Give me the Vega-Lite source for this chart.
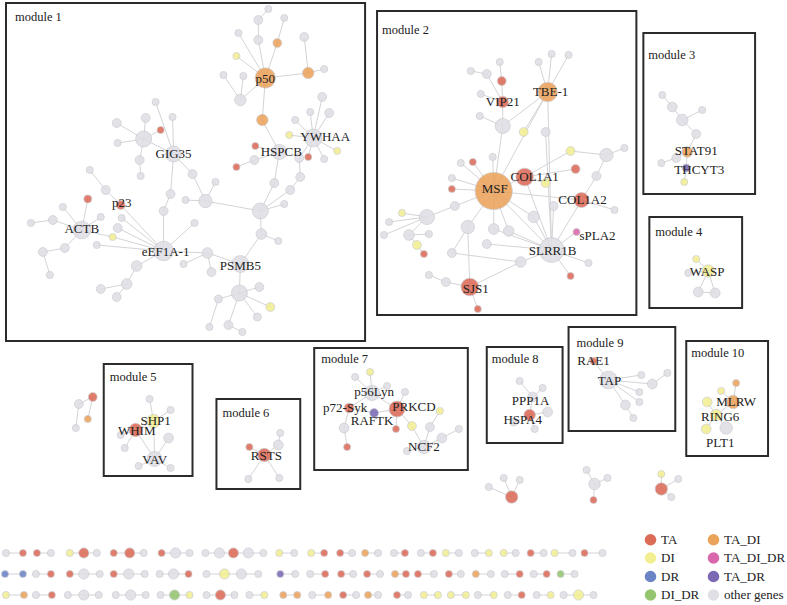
{
"$schema": "https://vega.github.io/schema/vega-lite/v6.json",
"width": 787, "height": 605,
"autosize": {"type": "fit", "contains": "padding"},
"padding": 0,
"background": "white",
"config": {"view": {"stroke": null}},
"datasets": {
"boxes": [
{"m":"1","x":4,"y":3,"x2":364,"y2":341},
{"m":"2","x":376,"y":11,"x2":636,"y2":315},
{"m":"3","x":643,"y":33,"x2":755,"y2":194},
{"m":"4","x":649,"y":217,"x2":742,"y2":308},
{"m":"5","x":102,"y":364,"x2":191,"y2":476},
{"m":"6","x":215,"y":399,"x2":299,"y2":489},
{"m":"7","x":313,"y":348,"x2":467,"y2":470},
{"m":"8","x":486,"y":347,"x2":562,"y2":443},
{"m":"9","x":568,"y":327,"x2":675,"y2":431},
{"m":"10","x":686,"y":341,"x2":768,"y2":456}
],
"mods": [
{"t":"module 1","x":13,"y":17},
{"t":"module 2","x":381,"y":30},
{"t":"module 3","x":648,"y":55},
{"t":"module 4","x":655,"y":232},
{"t":"module 5","x":108,"y":377},
{"t":"module 6","x":221,"y":413},
{"t":"module 7","x":320,"y":359},
{"t":"module 8","x":491,"y":359},
{"t":"module 9","x":576,"y":343},
{"t":"module 10","x":691,"y":353}
],
"labels": [
{"t":"p50","x":264,"y":79},
{"t":"YWHAA","x":324,"y":137},
{"t":"HSPCB","x":280,"y":152},
{"t":"GIG35","x":172,"y":154},
{"t":"p23","x":120,"y":203},
{"t":"ACTB","x":80,"y":229},
{"t":"eEF1A-1","x":164,"y":252},
{"t":"PSMB5","x":239,"y":266},
{"t":"VIP21","x":502,"y":102},
{"t":"TBE-1","x":550,"y":92},
{"t":"COL1A1","x":534,"y":177},
{"t":"MSF","x":494,"y":189},
{"t":"COL1A2","x":582,"y":200},
{"t":"sPLA2","x":597,"y":236},
{"t":"SLRR1B","x":552,"y":251},
{"t":"SJS1","x":475,"y":289},
{"t":"STAT91","x":696,"y":151},
{"t":"THCYT3","x":699,"y":170},
{"t":"WASP","x":707,"y":272},
{"t":"SHP1","x":154,"y":421},
{"t":"WHIM","x":135,"y":431},
{"t":"VAV","x":153,"y":460},
{"t":"RSTS","x":265,"y":456},
{"t":"p56Lyn","x":373,"y":392},
{"t":"p72-Syk","x":344,"y":408},
{"t":"PRKCD","x":413,"y":407},
{"t":"RAFTK","x":371,"y":421},
{"t":"NCF2","x":423,"y":447},
{"t":"PPP1A","x":530,"y":401},
{"t":"HSPA4","x":522,"y":420},
{"t":"RAE1","x":593,"y":361},
{"t":"TAP","x":609,"y":381},
{"t":"MLRW","x":736,"y":402},
{"t":"RING6","x":720,"y":417},
{"t":"PLT1","x":720,"y":443}
],
"nodes": [
{"id":"a1","x":267,"y":9,"w":8,"c":"other genes"},
{"id":"a2","x":257,"y":20,"w":10,"c":"other genes"},
{"id":"a3","x":283,"y":18,"w":8,"c":"other genes"},
{"id":"a4","x":237,"y":33,"w":8,"c":"other genes"},
{"id":"a5","x":257,"y":40,"w":10,"c":"other genes"},
{"id":"a6","x":276,"y":43,"w":10,"c":"TA_DI"},
{"id":"a7","x":303,"y":37,"w":10,"c":"other genes"},
{"id":"a8","x":235,"y":56,"w":8,"c":"DI"},
{"id":"a9","x":264,"y":78,"w":23,"c":"TA_DI"},
{"id":"a10","x":307,"y":73,"w":13,"c":"TA_DI"},
{"id":"a11","x":323,"y":69,"w":8,"c":"other genes"},
{"id":"a12","x":222,"y":75,"w":8,"c":"other genes"},
{"id":"a13","x":242,"y":76,"w":8,"c":"other genes"},
{"id":"a14","x":239,"y":100,"w":13,"c":"other genes"},
{"id":"a15","x":261,"y":120,"w":13,"c":"TA_DI"},
{"id":"a16","x":321,"y":97,"w":10,"c":"other genes"},
{"id":"a17","x":328,"y":113,"w":10,"c":"other genes"},
{"id":"a18","x":309,"y":112,"w":8,"c":"other genes"},
{"id":"a19","x":294,"y":120,"w":8,"c":"other genes"},
{"id":"a20","x":312,"y":138,"w":20,"c":"other genes"},
{"id":"a21","x":288,"y":135,"w":8,"c":"DI"},
{"id":"a22","x":336,"y":151,"w":8,"c":"DI"},
{"id":"a23","x":323,"y":159,"w":8,"c":"other genes"},
{"id":"a24","x":307,"y":157,"w":8,"c":"TA"},
{"id":"a25","x":298,"y":158,"w":10,"c":"other genes"},
{"id":"a26","x":278,"y":152,"w":17,"c":"other genes"},
{"id":"a27","x":254,"y":146,"w":8,"c":"TA"},
{"id":"a28","x":253,"y":160,"w":10,"c":"other genes"},
{"id":"a29","x":235,"y":167,"w":8,"c":"TA"},
{"id":"a30","x":299,"y":177,"w":10,"c":"other genes"},
{"id":"a31","x":273,"y":183,"w":10,"c":"other genes"},
{"id":"a32","x":289,"y":190,"w":10,"c":"other genes"},
{"id":"a33","x":283,"y":204,"w":8,"c":"other genes"},
{"id":"a34","x":259,"y":211,"w":18,"c":"other genes"},
{"id":"a35","x":260,"y":234,"w":12,"c":"other genes"},
{"id":"a36","x":277,"y":241,"w":8,"c":"other genes"},
{"id":"a37","x":239,"y":264,"w":19,"c":"other genes"},
{"id":"a38","x":206,"y":253,"w":12,"c":"other genes"},
{"id":"a39","x":182,"y":264,"w":8,"c":"other genes"},
{"id":"a40","x":210,"y":272,"w":10,"c":"other genes"},
{"id":"a41","x":238,"y":293,"w":18,"c":"other genes"},
{"id":"a42","x":258,"y":287,"w":10,"c":"other genes"},
{"id":"a43","x":269,"y":307,"w":10,"c":"DI"},
{"id":"a44","x":256,"y":317,"w":9,"c":"other genes"},
{"id":"a45","x":217,"y":299,"w":9,"c":"other genes"},
{"id":"a46","x":227,"y":325,"w":10,"c":"other genes"},
{"id":"a47","x":208,"y":327,"w":8,"c":"other genes"},
{"id":"a48","x":241,"y":332,"w":8,"c":"other genes"},
{"id":"a49","x":204,"y":201,"w":15,"c":"other genes"},
{"id":"a50","x":214,"y":182,"w":8,"c":"other genes"},
{"id":"a51","x":184,"y":200,"w":8,"c":"other genes"},
{"id":"a52","x":191,"y":174,"w":10,"c":"other genes"},
{"id":"a53","x":172,"y":154,"w":18,"c":"other genes"},
{"id":"a54","x":169,"y":194,"w":10,"c":"other genes"},
{"id":"a55","x":162,"y":211,"w":10,"c":"other genes"},
{"id":"a56","x":162,"y":251,"w":22,"c":"other genes"},
{"id":"a57","x":193,"y":223,"w":8,"c":"other genes"},
{"id":"a58","x":135,"y":266,"w":12,"c":"other genes"},
{"id":"a59","x":125,"y":284,"w":12,"c":"other genes"},
{"id":"a60","x":99,"y":289,"w":10,"c":"other genes"},
{"id":"a61","x":115,"y":297,"w":10,"c":"other genes"},
{"id":"a62","x":111,"y":237,"w":8,"c":"DI"},
{"id":"a63","x":95,"y":245,"w":8,"c":"other genes"},
{"id":"a64","x":116,"y":228,"w":10,"c":"other genes"},
{"id":"a65","x":120,"y":218,"w":8,"c":"other genes"},
{"id":"a66","x":119,"y":205,"w":10,"c":"TA"},
{"id":"a67","x":104,"y":190,"w":10,"c":"other genes"},
{"id":"a68","x":88,"y":170,"w":8,"c":"other genes"},
{"id":"a69","x":86,"y":199,"w":9,"c":"TA"},
{"id":"a70","x":80,"y":230,"w":20,"c":"other genes"},
{"id":"a71","x":61,"y":207,"w":8,"c":"other genes"},
{"id":"a72","x":51,"y":220,"w":10,"c":"other genes"},
{"id":"a73","x":29,"y":223,"w":8,"c":"other genes"},
{"id":"a74","x":99,"y":217,"w":8,"c":"other genes"},
{"id":"a75","x":63,"y":248,"w":10,"c":"other genes"},
{"id":"a76","x":41,"y":252,"w":10,"c":"other genes"},
{"id":"a77","x":48,"y":275,"w":8,"c":"other genes"},
{"id":"a78","x":142,"y":139,"w":18,"c":"other genes"},
{"id":"a79","x":115,"y":123,"w":10,"c":"other genes"},
{"id":"a80","x":144,"y":118,"w":10,"c":"other genes"},
{"id":"a81","x":154,"y":102,"w":8,"c":"other genes"},
{"id":"a82","x":171,"y":117,"w":8,"c":"other genes"},
{"id":"a83","x":159,"y":130,"w":8,"c":"TA"},
{"id":"a84","x":116,"y":143,"w":8,"c":"other genes"},
{"id":"a85","x":138,"y":160,"w":10,"c":"other genes"},
{"id":"a86","x":139,"y":176,"w":8,"c":"other genes"},
{"id":"b1","x":499,"y":62,"w":8,"c":"other genes"},
{"id":"b2","x":470,"y":71,"w":8,"c":"other genes"},
{"id":"b3","x":486,"y":74,"w":10,"c":"other genes"},
{"id":"b4","x":501,"y":81,"w":10,"c":"TA"},
{"id":"b5","x":480,"y":94,"w":8,"c":"other genes"},
{"id":"b6","x":502,"y":102,"w":13,"c":"TA"},
{"id":"b7","x":547,"y":92,"w":22,"c":"TA_DI"},
{"id":"b8","x":538,"y":62,"w":8,"c":"other genes"},
{"id":"b9","x":551,"y":54,"w":8,"c":"other genes"},
{"id":"b10","x":568,"y":55,"w":8,"c":"other genes"},
{"id":"b11","x":479,"y":116,"w":8,"c":"other genes"},
{"id":"b12","x":502,"y":126,"w":17,"c":"other genes"},
{"id":"b13","x":523,"y":132,"w":10,"c":"DI"},
{"id":"b14","x":545,"y":132,"w":10,"c":"other genes"},
{"id":"b15","x":570,"y":151,"w":10,"c":"DI"},
{"id":"b16","x":606,"y":155,"w":15,"c":"other genes"},
{"id":"b17","x":624,"y":148,"w":8,"c":"other genes"},
{"id":"b18","x":575,"y":169,"w":10,"c":"TA"},
{"id":"b19","x":596,"y":176,"w":10,"c":"other genes"},
{"id":"b20","x":524,"y":177,"w":20,"c":"TA"},
{"id":"b21","x":545,"y":183,"w":10,"c":"DI"},
{"id":"b22","x":493,"y":191,"w":42,"c":"TA_DI"},
{"id":"b23","x":472,"y":162,"w":8,"c":"TA"},
{"id":"b24","x":460,"y":163,"w":8,"c":"other genes"},
{"id":"b25","x":492,"y":157,"w":8,"c":"other genes"},
{"id":"b26","x":451,"y":178,"w":8,"c":"other genes"},
{"id":"b27","x":451,"y":189,"w":8,"c":"TA"},
{"id":"b28","x":581,"y":200,"w":17,"c":"TA"},
{"id":"b29","x":614,"y":210,"w":8,"c":"other genes"},
{"id":"b30","x":553,"y":206,"w":10,"c":"other genes"},
{"id":"b31","x":533,"y":217,"w":13,"c":"other genes"},
{"id":"b32","x":576,"y":232,"w":8,"c":"TA_DI_DR"},
{"id":"b33","x":551,"y":250,"w":28,"c":"other genes"},
{"id":"b34","x":588,"y":263,"w":8,"c":"other genes"},
{"id":"b35","x":570,"y":276,"w":8,"c":"TA"},
{"id":"b36","x":520,"y":262,"w":12,"c":"other genes"},
{"id":"b37","x":508,"y":231,"w":12,"c":"other genes"},
{"id":"b38","x":493,"y":229,"w":12,"c":"other genes"},
{"id":"b39","x":486,"y":244,"w":10,"c":"other genes"},
{"id":"b40","x":467,"y":227,"w":15,"c":"other genes"},
{"id":"b41","x":454,"y":206,"w":10,"c":"other genes"},
{"id":"b42","x":426,"y":217,"w":17,"c":"other genes"},
{"id":"b43","x":401,"y":213,"w":8,"c":"DI"},
{"id":"b44","x":388,"y":222,"w":8,"c":"other genes"},
{"id":"b45","x":383,"y":235,"w":8,"c":"other genes"},
{"id":"b46","x":408,"y":235,"w":12,"c":"other genes"},
{"id":"b47","x":428,"y":234,"w":8,"c":"other genes"},
{"id":"b48","x":416,"y":245,"w":10,"c":"DI"},
{"id":"b49","x":423,"y":254,"w":8,"c":"TA"},
{"id":"b50","x":451,"y":253,"w":10,"c":"other genes"},
{"id":"b51","x":469,"y":287,"w":20,"c":"TA"},
{"id":"b52","x":445,"y":282,"w":10,"c":"other genes"},
{"id":"b53","x":428,"y":275,"w":8,"c":"other genes"},
{"id":"b54","x":477,"y":309,"w":8,"c":"TA"},
{"id":"c1","x":662,"y":95,"w":8,"c":"other genes"},
{"id":"c2","x":672,"y":107,"w":11,"c":"other genes"},
{"id":"c3","x":702,"y":110,"w":8,"c":"other genes"},
{"id":"c4","x":682,"y":120,"w":13,"c":"other genes"},
{"id":"c5","x":696,"y":134,"w":10,"c":"other genes"},
{"id":"c6","x":687,"y":152,"w":12,"c":"TA_DI"},
{"id":"c7","x":676,"y":158,"w":10,"c":"other genes"},
{"id":"c8","x":661,"y":163,"w":8,"c":"other genes"},
{"id":"c9","x":686,"y":168,"w":9,"c":"TA_DR"},
{"id":"c10","x":684,"y":182,"w":8,"c":"DI"},
{"id":"d1","x":696,"y":259,"w":8,"c":"DI"},
{"id":"d2","x":708,"y":271,"w":14,"c":"DI"},
{"id":"d3","x":688,"y":273,"w":8,"c":"other genes"},
{"id":"d4","x":698,"y":292,"w":11,"c":"other genes"},
{"id":"d5","x":715,"y":293,"w":11,"c":"other genes"},
{"id":"e1","x":77,"y":404,"w":10,"c":"other genes"},
{"id":"e2","x":91,"y":397,"w":10,"c":"TA"},
{"id":"e3","x":86,"y":419,"w":8,"c":"TA_DI"},
{"id":"e4","x":74,"y":428,"w":8,"c":"other genes"},
{"id":"e5","x":148,"y":399,"w":8,"c":"other genes"},
{"id":"e6","x":152,"y":421,"w":15,"c":"DI"},
{"id":"e7","x":169,"y":410,"w":8,"c":"other genes"},
{"id":"e8","x":134,"y":430,"w":15,"c":"TA"},
{"id":"e9","x":119,"y":435,"w":8,"c":"other genes"},
{"id":"e10","x":167,"y":438,"w":11,"c":"other genes"},
{"id":"e11","x":123,"y":448,"w":8,"c":"other genes"},
{"id":"e12","x":153,"y":459,"w":17,"c":"other genes"},
{"id":"e13","x":137,"y":466,"w":8,"c":"other genes"},
{"id":"e14","x":169,"y":468,"w":8,"c":"other genes"},
{"id":"f1","x":279,"y":433,"w":8,"c":"other genes"},
{"id":"f2","x":277,"y":445,"w":11,"c":"other genes"},
{"id":"f3","x":248,"y":447,"w":8,"c":"TA"},
{"id":"f4","x":263,"y":455,"w":15,"c":"TA"},
{"id":"f5","x":247,"y":479,"w":8,"c":"other genes"},
{"id":"f6","x":278,"y":478,"w":8,"c":"other genes"},
{"id":"g1","x":369,"y":372,"w":8,"c":"DI"},
{"id":"g2","x":354,"y":377,"w":8,"c":"other genes"},
{"id":"g3","x":371,"y":393,"w":17,"c":"other genes"},
{"id":"g4","x":386,"y":386,"w":8,"c":"other genes"},
{"id":"g5","x":404,"y":392,"w":8,"c":"other genes"},
{"id":"g6","x":348,"y":408,"w":11,"c":"TA"},
{"id":"g7","x":373,"y":413,"w":10,"c":"TA_DR"},
{"id":"g8","x":396,"y":409,"w":18,"c":"TA"},
{"id":"g9","x":439,"y":411,"w":8,"c":"DI"},
{"id":"g10","x":395,"y":429,"w":8,"c":"TA"},
{"id":"g11","x":411,"y":426,"w":10,"c":"DI"},
{"id":"g12","x":429,"y":427,"w":10,"c":"other genes"},
{"id":"g13","x":458,"y":429,"w":8,"c":"other genes"},
{"id":"g14","x":441,"y":438,"w":11,"c":"other genes"},
{"id":"g15","x":423,"y":447,"w":15,"c":"other genes"},
{"id":"g16","x":406,"y":451,"w":8,"c":"other genes"},
{"id":"g17","x":343,"y":428,"w":11,"c":"other genes"},
{"id":"g18","x":346,"y":447,"w":8,"c":"TA"},
{"id":"h1","x":519,"y":381,"w":8,"c":"other genes"},
{"id":"h2","x":542,"y":388,"w":8,"c":"other genes"},
{"id":"h3","x":532,"y":397,"w":11,"c":"other genes"},
{"id":"h4","x":547,"y":412,"w":11,"c":"other genes"},
{"id":"h5","x":529,"y":415,"w":13,"c":"TA"},
{"id":"h6","x":513,"y":422,"w":9,"c":"other genes"},
{"id":"h7","x":534,"y":429,"w":8,"c":"other genes"},
{"id":"i1","x":593,"y":361,"w":8,"c":"TA"},
{"id":"i2","x":608,"y":380,"w":20,"c":"other genes"},
{"id":"i3","x":641,"y":375,"w":8,"c":"other genes"},
{"id":"i4","x":667,"y":373,"w":8,"c":"other genes"},
{"id":"i5","x":652,"y":384,"w":11,"c":"other genes"},
{"id":"i6","x":639,"y":392,"w":8,"c":"other genes"},
{"id":"i7","x":639,"y":402,"w":8,"c":"other genes"},
{"id":"i8","x":625,"y":405,"w":11,"c":"other genes"},
{"id":"i9","x":633,"y":418,"w":8,"c":"other genes"},
{"id":"j1","x":736,"y":383,"w":8,"c":"TA_DI"},
{"id":"j2","x":721,"y":391,"w":8,"c":"DI"},
{"id":"j3","x":707,"y":402,"w":11,"c":"DI"},
{"id":"j4","x":733,"y":402,"w":15,"c":"TA_DI"},
{"id":"j5","x":716,"y":415,"w":13,"c":"DI"},
{"id":"j6","x":706,"y":429,"w":11,"c":"DI"},
{"id":"j7","x":726,"y":428,"w":14,"c":"other genes"},
{"id":"k1","x":488,"y":487,"w":8,"c":"other genes"},
{"id":"k2","x":503,"y":478,"w":8,"c":"other genes"},
{"id":"k3","x":519,"y":480,"w":8,"c":"other genes"},
{"id":"k4","x":511,"y":497,"w":14,"c":"TA"},
{"id":"k5","x":586,"y":470,"w":8,"c":"other genes"},
{"id":"k6","x":594,"y":484,"w":13,"c":"other genes"},
{"id":"k7","x":607,"y":478,"w":8,"c":"other genes"},
{"id":"k8","x":593,"y":500,"w":8,"c":"TA"},
{"id":"k9","x":661,"y":474,"w":8,"c":"DI"},
{"id":"k10","x":678,"y":479,"w":8,"c":"other genes"},
{"id":"k11","x":661,"y":489,"w":14,"c":"TA"},
{"id":"k12","x":671,"y":497,"w":8,"c":"other genes"}
],
"edges": [
{"a":"a1","b":"a2"},{"a":"a2","b":"a5"},{"a":"a5","b":"a9"},{"a":"a3","b":"a6"},{"a":"a6","b":"a9"},{"a":"a4","b":"a9"},{"a":"a8","b":"a9"},{"a":"a7","b":"a10"},{"a":"a10","b":"a9"},{"a":"a11","b":"a10"},{"a":"a12","b":"a14"},{"a":"a13","b":"a14"},{"a":"a14","b":"a9"},{"a":"a9","b":"a15"},{"a":"a15","b":"a26"},{"a":"a27","b":"a26"},{"a":"a28","b":"a26"},{"a":"a29","b":"a28"},{"a":"a26","b":"a31"},{"a":"a31","b":"a34"},
{"a":"a16","b":"a20"},{"a":"a17","b":"a20"},{"a":"a18","b":"a20"},{"a":"a19","b":"a20"},{"a":"a21","b":"a20"},{"a":"a22","b":"a20"},{"a":"a23","b":"a20"},{"a":"a24","b":"a20"},{"a":"a25","b":"a20"},{"a":"a25","b":"a30"},{"a":"a30","b":"a32"},{"a":"a32","b":"a34"},{"a":"a33","b":"a34"},
{"a":"a34","b":"a49"},{"a":"a49","b":"a52"},{"a":"a52","b":"a53"},{"a":"a49","b":"a50"},{"a":"a49","b":"a51"},{"a":"a34","b":"a35"},{"a":"a35","b":"a37"},{"a":"a35","b":"a36"},{"a":"a37","b":"a38"},{"a":"a38","b":"a39"},{"a":"a38","b":"a40"},{"a":"a37","b":"a41"},{"a":"a41","b":"a42"},{"a":"a41","b":"a43"},{"a":"a41","b":"a44"},{"a":"a41","b":"a45"},{"a":"a45","b":"a47"},{"a":"a41","b":"a46"},{"a":"a46","b":"a48"},
{"a":"a53","b":"a78"},{"a":"a78","b":"a79"},{"a":"a78","b":"a80"},{"a":"a78","b":"a83"},{"a":"a78","b":"a84"},{"a":"a78","b":"a85"},{"a":"a85","b":"a86"},{"a":"a81","b":"a53"},{"a":"a82","b":"a53"},
{"a":"a53","b":"a54"},{"a":"a54","b":"a55"},{"a":"a55","b":"a56"},{"a":"a56","b":"a57"},{"a":"a56","b":"a58"},{"a":"a58","b":"a59"},{"a":"a59","b":"a60"},{"a":"a59","b":"a61"},{"a":"a56","b":"a62"},{"a":"a56","b":"a64"},{"a":"a56","b":"a65"},{"a":"a56","b":"a66"},{"a":"a66","b":"a67"},{"a":"a67","b":"a68"},{"a":"a56","b":"a38"},{"a":"a70","b":"a62"},{"a":"a70","b":"a69"},{"a":"a70","b":"a71"},{"a":"a70","b":"a72"},{"a":"a72","b":"a73"},{"a":"a70","b":"a74"},{"a":"a70","b":"a75"},{"a":"a75","b":"a76"},{"a":"a76","b":"a77"},{"a":"a63","b":"a56"},
{"a":"b2","b":"b3"},{"a":"b3","b":"b6"},{"a":"b1","b":"b4"},{"a":"b4","b":"b6"},{"a":"b5","b":"b6"},{"a":"b6","b":"b12"},{"a":"b11","b":"b12"},{"a":"b12","b":"b22"},{"a":"b8","b":"b7"},{"a":"b9","b":"b7"},{"a":"b10","b":"b7"},{"a":"b7","b":"b22"},{"a":"b7","b":"b13"},{"a":"b7","b":"b33"},{"a":"b14","b":"b33"},{"a":"b7","b":"b12"},
{"a":"b23","b":"b22"},{"a":"b24","b":"b22"},{"a":"b25","b":"b22"},{"a":"b26","b":"b22"},{"a":"b27","b":"b22"},{"a":"b22","b":"b20"},{"a":"b22","b":"b28"},{"a":"b22","b":"b41"},{"a":"b41","b":"b42"},{"a":"b42","b":"b43"},{"a":"b42","b":"b44"},{"a":"b42","b":"b45"},{"a":"b42","b":"b46"},{"a":"b46","b":"b47"},{"a":"b46","b":"b48"},{"a":"b48","b":"b49"},{"a":"b22","b":"b40"},{"a":"b22","b":"b38"},{"a":"b22","b":"b37"},{"a":"b22","b":"b31"},{"a":"b22","b":"b33"},{"a":"b40","b":"b51"},{"a":"b40","b":"b50"},{"a":"b51","b":"b52"},{"a":"b52","b":"b53"},{"a":"b51","b":"b54"},{"a":"b51","b":"b36"},{"a":"b36","b":"b33"},{"a":"b39","b":"b33"},{"a":"b38","b":"b33"},{"a":"b37","b":"b33"},{"a":"b31","b":"b33"},{"a":"b20","b":"b21"},{"a":"b20","b":"b33"},{"a":"b20","b":"b15"},{"a":"b15","b":"b16"},{"a":"b16","b":"b17"},{"a":"b16","b":"b19"},{"a":"b19","b":"b28"},{"a":"b18","b":"b20"},{"a":"b28","b":"b33"},{"a":"b28","b":"b29"},{"a":"b30","b":"b33"},{"a":"b32","b":"b33"},{"a":"b34","b":"b33"},{"a":"b35","b":"b33"},{"a":"b50","b":"b36"},
{"a":"c1","b":"c2"},{"a":"c2","b":"c4"},{"a":"c3","b":"c4"},{"a":"c4","b":"c5"},{"a":"c5","b":"c6"},{"a":"c6","b":"c7"},{"a":"c7","b":"c8"},{"a":"c6","b":"c9"},{"a":"c9","b":"c10"},
{"a":"d1","b":"d2"},{"a":"d3","b":"d2"},{"a":"d2","b":"d4"},{"a":"d2","b":"d5"},{"a":"d4","b":"d5"},
{"a":"e1","b":"e2"},{"a":"e1","b":"e4"},{"a":"e2","b":"e3"},{"a":"e5","b":"e6"},{"a":"e7","b":"e6"},{"a":"e6","b":"e8"},{"a":"e8","b":"e9"},{"a":"e8","b":"e11"},{"a":"e8","b":"e12"},{"a":"e6","b":"e12"},{"a":"e10","b":"e12"},{"a":"e12","b":"e13"},{"a":"e12","b":"e14"},
{"a":"f1","b":"f2"},{"a":"f2","b":"f4"},{"a":"f3","b":"f4"},{"a":"f4","b":"f5"},{"a":"f4","b":"f6"},
{"a":"g1","b":"g3"},{"a":"g2","b":"g3"},{"a":"g4","b":"g3"},{"a":"g3","b":"g8"},{"a":"g3","b":"g6"},{"a":"g5","b":"g8"},{"a":"g6","b":"g7"},{"a":"g7","b":"g8"},{"a":"g6","b":"g17"},{"a":"g17","b":"g18"},{"a":"g8","b":"g10"},{"a":"g8","b":"g11"},{"a":"g11","b":"g15"},{"a":"g9","b":"g12"},{"a":"g12","b":"g15"},{"a":"g13","b":"g14"},{"a":"g14","b":"g15"},{"a":"g15","b":"g16"},
{"a":"h1","b":"h3"},{"a":"h2","b":"h3"},{"a":"h3","b":"h5"},{"a":"h5","b":"h4"},{"a":"h5","b":"h6"},{"a":"h5","b":"h7"},
{"a":"i1","b":"i2"},{"a":"i2","b":"i3"},{"a":"i2","b":"i5"},{"a":"i5","b":"i4"},{"a":"i2","b":"i6"},{"a":"i2","b":"i7"},{"a":"i2","b":"i8"},{"a":"i8","b":"i9"},
{"a":"j1","b":"j4"},{"a":"j2","b":"j4"},{"a":"j3","b":"j5"},{"a":"j4","b":"j5"},{"a":"j5","b":"j6"},{"a":"j5","b":"j7"},
{"a":"k1","b":"k4"},{"a":"k2","b":"k4"},{"a":"k3","b":"k4"},{"a":"k5","b":"k6"},{"a":"k7","b":"k6"},{"a":"k6","b":"k8"},{"a":"k9","b":"k11"},{"a":"k10","b":"k11"},{"a":"k12","b":"k11"}
],
"chains": [
{"g":"1a","x":4,"y":553,"w":8,"c":"other genes"},{"g":"1a","x":21,"y":553,"w":8,"c":"TA"},
{"g":"1b","x":35,"y":553,"w":8,"c":"TA"},{"g":"1b","x":49,"y":553,"w":8,"c":"other genes"},
{"g":"1c","x":68,"y":553,"w":8,"c":"DI"},{"g":"1c","x":82,"y":553,"w":11.5,"c":"TA"},{"g":"1c","x":95,"y":553,"w":8,"c":"other genes"},
{"g":"1d","x":112,"y":553,"w":8,"c":"TA"},{"g":"1d","x":128,"y":553,"w":11.5,"c":"TA"},{"g":"1d","x":142,"y":553,"w":8,"c":"other genes"},
{"g":"1e","x":160,"y":553,"w":8,"c":"TA"},{"g":"1e","x":174,"y":553,"w":11.5,"c":"other genes"},{"g":"1e","x":188,"y":553,"w":8,"c":"other genes"},
{"g":"1f","x":204,"y":553,"w":8,"c":"other genes"},{"g":"1f","x":218,"y":553,"w":11.5,"c":"other genes"},{"g":"1f","x":232,"y":553,"w":11.5,"c":"TA"},{"g":"1f","x":247,"y":553,"w":11.5,"c":"other genes"},{"g":"1f","x":262,"y":553,"w":8,"c":"other genes"},
{"g":"1g","x":278,"y":553,"w":8,"c":"DI"},{"g":"1g","x":293,"y":553,"w":8,"c":"other genes"},
{"g":"1h","x":310,"y":553,"w":8,"c":"DI"},{"g":"1h","x":323,"y":553,"w":8,"c":"TA"},
{"g":"1i","x":339,"y":553,"w":8,"c":"TA"},{"g":"1i","x":351,"y":553,"w":8,"c":"other genes"},
{"g":"1j","x":364,"y":553,"w":8,"c":"TA_DI"},{"g":"1j","x":377,"y":553,"w":8,"c":"other genes"},
{"g":"1k","x":393,"y":553,"w":8,"c":"other genes"},{"g":"1k","x":404,"y":553,"w":8,"c":"TA"},
{"g":"1l","x":420,"y":553,"w":8,"c":"other genes"},{"g":"1l","x":432,"y":553,"w":8,"c":"TA"},
{"g":"1m","x":445,"y":553,"w":8,"c":"DI"},{"g":"1m","x":458,"y":553,"w":8,"c":"other genes"},
{"g":"1n","x":474,"y":553,"w":8,"c":"other genes"},{"g":"1n","x":488,"y":553,"w":8,"c":"DI"},
{"g":"1o","x":503,"y":553,"w":8,"c":"DI"},{"g":"1o","x":515,"y":553,"w":8,"c":"other genes"},
{"g":"1p","x":530,"y":553,"w":8,"c":"TA"},{"g":"1p","x":543,"y":553,"w":8,"c":"other genes"},
{"g":"1q","x":554,"y":553,"w":8,"c":"DI"},{"g":"1q","x":572,"y":553,"w":8,"c":"other genes"},
{"g":"1r","x":584,"y":553,"w":8,"c":"TA"},{"g":"1r","x":602,"y":553,"w":8,"c":"other genes"},
{"g":"2a","x":3,"y":574,"w":8,"c":"DR"},{"g":"2a","x":21,"y":574,"w":8,"c":"DR"},
{"g":"2b","x":34,"y":574,"w":8,"c":"other genes"},{"g":"2b","x":49,"y":574,"w":8,"c":"TA"},
{"g":"2c","x":68,"y":574,"w":8,"c":"TA"},{"g":"2c","x":82,"y":574,"w":11.5,"c":"other genes"},{"g":"2c","x":98,"y":574,"w":8,"c":"other genes"},
{"g":"2d","x":112,"y":574,"w":8,"c":"TA"},{"g":"2d","x":127,"y":574,"w":11.5,"c":"other genes"},{"g":"2d","x":143,"y":574,"w":8,"c":"other genes"},
{"g":"2e","x":158,"y":574,"w":8,"c":"other genes"},{"g":"2e","x":172,"y":574,"w":11.5,"c":"other genes"},{"g":"2e","x":187,"y":574,"w":8,"c":"TA"},
{"g":"2f","x":205,"y":574,"w":8,"c":"other genes"},{"g":"2f","x":223,"y":574,"w":11.5,"c":"DI"},{"g":"2f","x":240,"y":574,"w":11.5,"c":"other genes"},{"g":"2f","x":257,"y":574,"w":8,"c":"other genes"},
{"g":"2g","x":279,"y":574,"w":8,"c":"TA_DR"},{"g":"2g","x":294,"y":574,"w":8,"c":"other genes"},
{"g":"2h","x":309,"y":574,"w":8,"c":"other genes"},{"g":"2h","x":324,"y":574,"w":8,"c":"TA"},
{"g":"2i","x":340,"y":574,"w":8,"c":"TA"},{"g":"2i","x":352,"y":574,"w":8,"c":"other genes"},
{"g":"2j","x":366,"y":574,"w":8,"c":"TA"},{"g":"2j","x":379,"y":574,"w":8,"c":"other genes"},
{"g":"2k","x":394,"y":574,"w":8,"c":"TA_DI"},{"g":"2k","x":405,"y":574,"w":8,"c":"TA"},
{"g":"2l","x":417,"y":574,"w":8,"c":"TA"},{"g":"2l","x":433,"y":574,"w":8,"c":"other genes"},
{"g":"2m","x":448,"y":574,"w":8,"c":"TA"},{"g":"2m","x":460,"y":574,"w":8,"c":"other genes"},
{"g":"2n","x":475,"y":574,"w":8,"c":"TA_DI"},{"g":"2n","x":490,"y":574,"w":8,"c":"other genes"},
{"g":"2o","x":504,"y":574,"w":8,"c":"other genes"},{"g":"2o","x":519,"y":574,"w":8,"c":"TA"},
{"g":"2p","x":533,"y":574,"w":8,"c":"other genes"},{"g":"2p","x":546,"y":574,"w":8,"c":"TA"},
{"g":"2q","x":560,"y":574,"w":8,"c":"DI_DR"},{"g":"2q","x":574,"y":574,"w":8,"c":"other genes"},
{"g":"3a","x":4,"y":595,"w":8,"c":"DI"},{"g":"3a","x":22,"y":595,"w":8,"c":"TA_DI"},
{"g":"3b","x":34,"y":595,"w":8,"c":"other genes"},{"g":"3b","x":50,"y":595,"w":8,"c":"TA"},
{"g":"3c","x":66,"y":595,"w":8,"c":"other genes"},{"g":"3c","x":82,"y":595,"w":11.5,"c":"other genes"},{"g":"3c","x":97,"y":595,"w":8,"c":"other genes"},
{"g":"3d","x":114,"y":595,"w":8,"c":"other genes"},{"g":"3d","x":129,"y":595,"w":11.5,"c":"other genes"},{"g":"3d","x":144,"y":595,"w":8,"c":"other genes"},
{"g":"3e","x":159,"y":595,"w":8,"c":"other genes"},{"g":"3e","x":173,"y":595,"w":11.5,"c":"DI_DR"},{"g":"3e","x":188,"y":595,"w":8,"c":"DI"},
{"g":"3f","x":205,"y":595,"w":8,"c":"other genes"},{"g":"3f","x":219,"y":595,"w":11.5,"c":"TA"},{"g":"3f","x":233,"y":595,"w":8,"c":"other genes"},
{"g":"3g","x":248,"y":595,"w":8,"c":"other genes"},{"g":"3g","x":263,"y":595,"w":8,"c":"DI"},
{"g":"3h","x":282,"y":595,"w":8,"c":"TA_DI"},{"g":"3h","x":296,"y":595,"w":8,"c":"TA_DI"},
{"g":"3i","x":311,"y":595,"w":8,"c":"other genes"},{"g":"3i","x":327,"y":595,"w":8,"c":"TA_DI"},
{"g":"3j","x":342,"y":595,"w":8,"c":"TA"},{"g":"3j","x":355,"y":595,"w":8,"c":"other genes"},
{"g":"3k","x":367,"y":595,"w":8,"c":"TA_DI"},{"g":"3k","x":377,"y":595,"w":8,"c":"other genes"},
{"g":"3l","x":396,"y":595,"w":8,"c":"TA"},{"g":"3l","x":407,"y":595,"w":8,"c":"other genes"},
{"g":"3m","x":423,"y":595,"w":8,"c":"DI"},{"g":"3m","x":437,"y":595,"w":8,"c":"DI"},
{"g":"3n","x":450,"y":595,"w":8,"c":"DI"},{"g":"3n","x":465,"y":595,"w":8,"c":"DI"},
{"g":"3o","x":477,"y":595,"w":8,"c":"other genes"},{"g":"3o","x":493,"y":595,"w":8,"c":"DI"},
{"g":"3p","x":507,"y":595,"w":8,"c":"other genes"},{"g":"3p","x":521,"y":595,"w":8,"c":"TA"},
{"g":"3q","x":536,"y":595,"w":8,"c":"other genes"},{"g":"3q","x":550,"y":595,"w":8,"c":"DI"},
{"g":"3r","x":563,"y":595,"w":8,"c":"other genes"},{"g":"3r","x":578,"y":595,"w":11.5,"c":"DI"},{"g":"3r","x":593,"y":595,"w":8,"c":"other genes"}
]
},
"encoding": {},
"layer": [
{
"data": {"name": "edges"},
"transform": [
{"lookup": "a", "from": {"data": {"name": "nodes"}, "key": "id", "fields": ["x", "y"]}, "as": ["xa", "ya"]},
{"lookup": "b", "from": {"data": {"name": "nodes"}, "key": "id", "fields": ["x", "y"]}, "as": ["xb", "yb"]}
],
"mark": {"type": "rule", "color": "#d4d4d8", "strokeWidth": 1},
"encoding": {
"x": {"field": "xa", "type": "quantitative", "scale": {"domain": [0, 787], "nice": false, "zero": false}, "axis": null},
"y": {"field": "ya", "type": "quantitative", "scale": {"domain": [0, 605], "nice": false, "zero": false, "reverse": true}, "axis": null},
"x2": {"field": "xb"},
"y2": {"field": "yb"}
}
},
{
"data": {"name": "chains"},
"mark": {"type": "line", "color": "#d4d4d8", "strokeWidth": 1},
"encoding": {
"x": {"field": "x", "type": "quantitative"},
"y": {"field": "y", "type": "quantitative"},
"detail": {"field": "g", "type": "nominal"}
}
},
{
"data": {"name": "nodes"},
"mark": {"type": "point", "shape": "circle", "filled": true, "opacity": 0.88, "stroke": "#c6c6cc", "strokeWidth": 0.7},
"encoding": {
"x": {"field": "x", "type": "quantitative"},
"y": {"field": "y", "type": "quantitative"},
"size": {"field": "w", "type": "quantitative", "scale": {"type": "pow", "exponent": 2, "domain": [0, 42], "range": [0, 1385]}, "legend": null},
"color": {"field": "c", "type": "nominal",
"scale": {"domain": ["TA", "DI", "DR", "DI_DR", "TA_DI", "TA_DI_DR", "TA_DR", "other genes"],
"range": ["#dc6b58", "#f2ef93", "#6a84c6", "#95c66f", "#eba35c", "#d867ab", "#7b69b5", "#dfdfe5"]},
"legend": {"orient": "none", "legendX": 642, "legendY": 533, "columns": 2, "direction": "vertical", "title": null, "symbolType": "circle", "symbolSize": 135, "symbolStrokeWidth": 0, "symbolOpacity": 1, "labelFont": "Liberation Serif", "labelFontSize": 13, "labelColor": "#222", "labelOffset": 4, "rowPadding": 4.5, "columnPadding": 7}}
}
},
{
"data": {"name": "chains"},
"mark": {"type": "point", "shape": "circle", "filled": true, "opacity": 0.88, "stroke": "#c6c6cc", "strokeWidth": 0.7},
"encoding": {
"x": {"field": "x", "type": "quantitative"},
"y": {"field": "y", "type": "quantitative"},
"size": {"field": "w", "type": "quantitative"},
"color": {"field": "c", "type": "nominal"}
}
},
{
"data": {"name": "boxes"},
"mark": {"type": "rect", "fill": null, "fillOpacity": 0, "stroke": "#2b2b2b", "strokeWidth": 2},
"encoding": {
"x": {"field": "x", "type": "quantitative"},
"y": {"field": "y", "type": "quantitative"},
"x2": {"field": "x2"},
"y2": {"field": "y2"}
}
},
{
"data": {"name": "labels"},
"mark": {"type": "text", "font": "Liberation Serif", "fontSize": 13, "color": "#222", "align": "center", "baseline": "middle"},
"encoding": {
"x": {"field": "x", "type": "quantitative"},
"y": {"field": "y", "type": "quantitative"},
"text": {"field": "t"}
}
},
{
"data": {"name": "mods"},
"mark": {"type": "text", "font": "Liberation Serif", "fontSize": 12.5, "color": "#222", "align": "left", "baseline": "middle"},
"encoding": {
"x": {"field": "x", "type": "quantitative"},
"y": {"field": "y", "type": "quantitative"},
"text": {"field": "t"}
}
}
]
}
